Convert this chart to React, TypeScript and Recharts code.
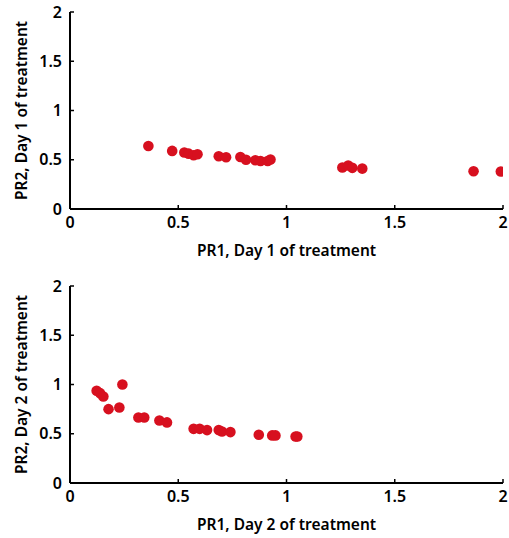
import React from "react";
import { ScatterChart, Scatter, XAxis, YAxis } from "recharts";

const day1PR1 = [0.362, 0.472, 0.528, 0.548, 0.571, 0.589, 0.687, 0.721, 0.787, 0.813, 0.856, 0.88, 0.913, 0.926, 1.258, 1.285, 1.304, 1.35, 1.864, 1.99];
const day1PR2 = [0.64, 0.59, 0.573, 0.562, 0.545, 0.556, 0.535, 0.525, 0.528, 0.5, 0.495, 0.488, 0.488, 0.502, 0.421, 0.441, 0.418, 0.41, 0.384, 0.38];

const day2PR1 = [0.123, 0.139, 0.154, 0.178, 0.228, 0.242, 0.316, 0.343, 0.413, 0.448, 0.571, 0.599, 0.633, 0.687, 0.702, 0.741, 0.872, 0.934, 0.949, 1.042, 1.05];
const day2PR2 = [0.936, 0.912, 0.878, 0.75, 0.767, 1.0, 0.665, 0.665, 0.635, 0.615, 0.55, 0.55, 0.537, 0.537, 0.523, 0.517, 0.49, 0.483, 0.483, 0.472, 0.472];

const xTicks = [0, 0.5, 1, 1.5, 2];
const yTicks = [0, 0.5, 1, 1.5, 2];
const xTickLabels = ["0", "0.5", "1", "1.5", "2"];
const yTickLabels = ["0", "0.5", "1", "1.5", "2"];

const day1 = day1PR1.map((x, i) => ({ x, y: day1PR2[i] }));
const day2 = day2PR1.map((x, i) => ({ x, y: day2PR2[i] }));

const FONT = "'Noto Sans', sans-serif";
const RED = "#d7101f";
const axisLine = { stroke: "#000", strokeWidth: 2 };
const tickLine = { stroke: "#000", strokeWidth: 1.5 };
const tickStyle = { fill: "#000", fontSize: 16, fontWeight: 600, fontFamily: FONT };

const xFmt = (v: number) => xTickLabels[xTicks.indexOf(v)] ?? String(v);
const yFmt = (v: number) => yTickLabels[yTicks.indexOf(v)] ?? String(v);

const Dot = (props: any) => <circle cx={props.cx} cy={props.cy} r={5.3} fill={RED} />;

function Panel({ data, xLabel, yLabel }: { data: { x: number; y: number }[]; xLabel: string; yLabel: string }) {
  return (
    <ScatterChart width={509} height={270} margin={{ top: 12, right: 6, bottom: 11, left: 30 }}>
      <XAxis
        xAxisId="b"
        type="number"
        dataKey="x"
        domain={[0, 2]}
        ticks={xTicks}
        tickFormatter={xFmt}
        allowDataOverflow
        axisLine={axisLine}
        tickLine={tickLine}
        tickSize={-4}
        tickMargin={12}
        tick={tickStyle}
        height={50}
        label={{ value: xLabel, position: "insideBottom", offset: 3, style: { ...tickStyle, fontSize: 15.5, textAnchor: "middle" } }}
      />
      <XAxis
        xAxisId="t"
        orientation="top"
        type="number"
        domain={[0, 2]}
        ticks={xTicks}
        allowDataOverflow
        axisLine={axisLine}
        tickLine={tickLine}
        tickSize={-3}
        tick={() => <g />}
        height={0}
      />
      <YAxis
        yAxisId="l"
        type="number"
        dataKey="y"
        domain={[0, 2]}
        ticks={yTicks}
        tickFormatter={yFmt}
        allowDataOverflow
        axisLine={axisLine}
        tickLine={tickLine}
        tickSize={-4}
        tickMargin={12}
        tick={tickStyle}
        width={40}
        label={{ value: yLabel, angle: -90, position: "insideLeft", offset: -9, style: { ...tickStyle, fontSize: 15.5, textAnchor: "middle" } }}
      />
      <YAxis
        yAxisId="r"
        orientation="right"
        type="number"
        domain={[0, 2]}
        ticks={yTicks}
        allowDataOverflow
        axisLine={axisLine}
        tickLine={tickLine}
        tickSize={-3}
        tick={() => <g />}
        width={0}
      />
      <Scatter data={data} xAxisId="b" yAxisId="l" fill={RED} shape={Dot} isAnimationActive={false} />
    </ScatterChart>
  );
}

export default function App() {
  return (
    <div style={{ position: "absolute", left: 0, top: 0, width: 509, height: 538, background: "#fff", fontFamily: FONT }}>
      <div style={{ position: "absolute", left: 0, top: 0 }}>
        <Panel data={day1} xLabel="PR1, Day 1 of treatment" yLabel="PR2, Day 1 of treatment" />
      </div>
      <div style={{ position: "absolute", left: 0, top: 274 }}>
        <Panel data={day2} xLabel="PR1, Day 2 of treatment" yLabel="PR2, Day 2 of treatment" />
      </div>
    </div>
  );
}
